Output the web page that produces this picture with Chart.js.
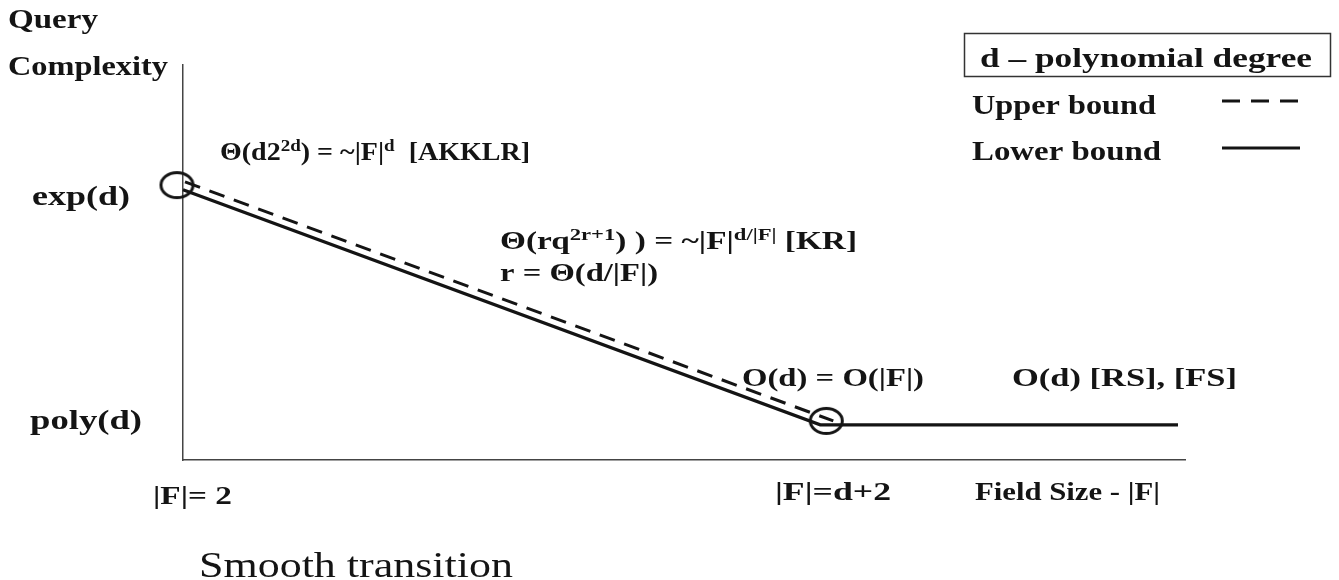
<!DOCTYPE html>
<html>
<head>
<meta charset="utf-8">
<script src="https://cdn.jsdelivr.net/npm/chart.js@4.4.1/dist/chart.umd.min.js"></script>
<style>
  html, body { margin: 0; padding: 0; background: #fff; }
  canvas { display: block; }
</style>
</head>
<body>
<canvas id="c" width="1339" height="580"></canvas>
<script>
// Field size axis: 0 = |F| = 2, ~64 = |F| = d+2, right end of the plot
const lowerX = [0, 63.6, 99.3];
const lowerY = [68.4, 8.9, 8.9];
const upperX = [0.2, 64.9];
const upperY = [70.4, 9.9];
// Transition points marked with rings
const ringX = [-0.6, 64.2];
const ringY = [69.6, 9.9];

const INK = '#141414';
const SERIF = '"Liberation Serif", "Times New Roman", serif';

function ringStyle(rx, ry, lw) {
  const cv = document.createElement('canvas');
  cv.width = Math.ceil(2 * rx + lw + 2);
  cv.height = Math.ceil(2 * ry + lw + 2);
  const g = cv.getContext('2d');
  g.strokeStyle = INK;
  g.lineWidth = lw;
  g.beginPath();
  g.ellipse(cv.width / 2, cv.height / 2, rx, ry, 0, 0, Math.PI * 2);
  g.stroke();
  return cv;
}

// Rich text runs: [text, isSuperscript]; w = set width of the whole line
const labels = [
  { x: 8,    y: 28,  size: 27, w: 90,  runs: [['Query']] },
  { x: 8,    y: 75,  size: 27, w: 160, runs: [['Complexity']] },
  { x: 220,  y: 160, size: 26, w: 310, runs: [['Θ(d2'], ['2d', 1], [') = ~|F|'], ['d', 1], ['  [AKKLR]']] },
  { x: 32,   y: 205, size: 27, w: 98,  runs: [['exp(d)']] },
  { x: 500,  y: 249, size: 25, w: 357, runs: [['Θ(rq'], ['2r+1', 1], [') ) = ~|F|'], ['d/|F|', 1], [' [KR]']] },
  { x: 500,  y: 281, size: 25, w: 158, runs: [['r = Θ(d/|F|)']] },
  { x: 742,  y: 386, size: 26, w: 182, runs: [['O(d) = O(|F|)']] },
  { x: 1012, y: 386, size: 26, w: 225, runs: [['O(d) [RS], [FS]']] },
  { x: 30,   y: 429, size: 27, w: 112, runs: [['poly(d)']] },
  { x: 153,  y: 504, size: 26, w: 79,  runs: [['|F|= 2']] },
  { x: 775,  y: 500, size: 26, w: 116, runs: [['|F|=d+2']] },
  { x: 975,  y: 500, size: 26, w: 185, runs: [['Field Size - |F|']] },
  { x: 980,  y: 67,  size: 28, w: 332, runs: [['d – polynomial degree']] },
  { x: 972,  y: 114, size: 28, w: 184, runs: [['Upper bound']] },
  { x: 972,  y: 160, size: 28, w: 189, runs: [['Lower bound']] },
  { x: 199,  y: 577, size: 36, w: 314, bold: false, runs: [['Smooth transition']] }
];

function runFont(lab, sup) {
  const sz = sup ? lab.size * 0.68 : lab.size;
  return (lab.bold === false ? '' : 'bold ') + sz + 'px ' + SERIF;
}

function drawRuns(ctx, lab) {
  ctx.save();
  let natural = 0;
  for (const r of lab.runs) {
    ctx.font = runFont(lab, !!r[1]);
    natural += ctx.measureText(r[0]).width;
  }
  ctx.translate(lab.x, lab.y);
  ctx.scale(lab.w / natural, 1);
  ctx.fillStyle = INK;
  ctx.textBaseline = 'alphabetic';
  let cx = 0;
  for (const r of lab.runs) {
    const sup = !!r[1];
    ctx.font = runFont(lab, sup);
    ctx.fillText(r[0], cx, sup ? -lab.size * 0.36 : 0);
    cx += ctx.measureText(r[0]).width;
  }
  ctx.restore();
}

const annotate = {
  id: 'annotate',
  afterDraw(chart) {
    const ctx = chart.ctx;
    labels.forEach(l => drawRuns(ctx, l));

    // key box and line samples
    ctx.save();
    ctx.strokeStyle = '#333';
    ctx.lineWidth = 1.5;
    ctx.strokeRect(964.5, 33.5, 366, 43);
    ctx.strokeStyle = INK;
    ctx.lineWidth = 3;
    ctx.setLineDash([18, 11]);
    ctx.beginPath(); ctx.moveTo(1222, 101); ctx.lineTo(1298, 101); ctx.stroke();
    ctx.setLineDash([]);
    ctx.beginPath(); ctx.moveTo(1222, 148); ctx.lineTo(1300, 148); ctx.stroke();
    ctx.restore();
  }
};

const toPts = (xs, ys) => xs.map((x, i) => ({ x, y: ys[i] }));

new Chart(document.getElementById('c'), {
  type: 'scatter',
  data: {
    datasets: [
      {
        label: 'Lower bound',
        data: toPts(lowerX, lowerY),
        showLine: true,
        borderColor: INK,
        borderWidth: 3.2,
        pointRadius: 0,
        clip: false
      },
      {
        label: 'Upper bound',
        data: toPts(upperX, upperY),
        showLine: true,
        borderColor: INK,
        borderWidth: 3,
        borderDash: [16, 10],
        pointRadius: 0,
        clip: false
      },
      {
        label: 'transition',
        data: toPts(ringX, ringY),
        showLine: false,
        pointStyle: ringStyle(16, 12.5, 3),
        pointRadius: 14,
        clip: false
      }
    ]
  },
  options: {
    responsive: false,
    animation: false,
    events: [],
    layout: { padding: { left: 183, right: 154, top: 65, bottom: 120 } },
    plugins: { legend: { display: false }, tooltip: { enabled: false } },
    scales: {
      x: {
        type: 'linear', min: 0, max: 100,
        grid: { display: false, drawTicks: false },
        ticks: { display: false },
        border: { display: true, color: '#444', width: 1.5 }
      },
      y: {
        type: 'linear', min: 0, max: 100,
        grid: { display: false, drawTicks: false },
        ticks: { display: false },
        border: { display: true, color: '#444', width: 1.5 }
      }
    }
  },
  plugins: [annotate]
});
</script>
</body>
</html>
